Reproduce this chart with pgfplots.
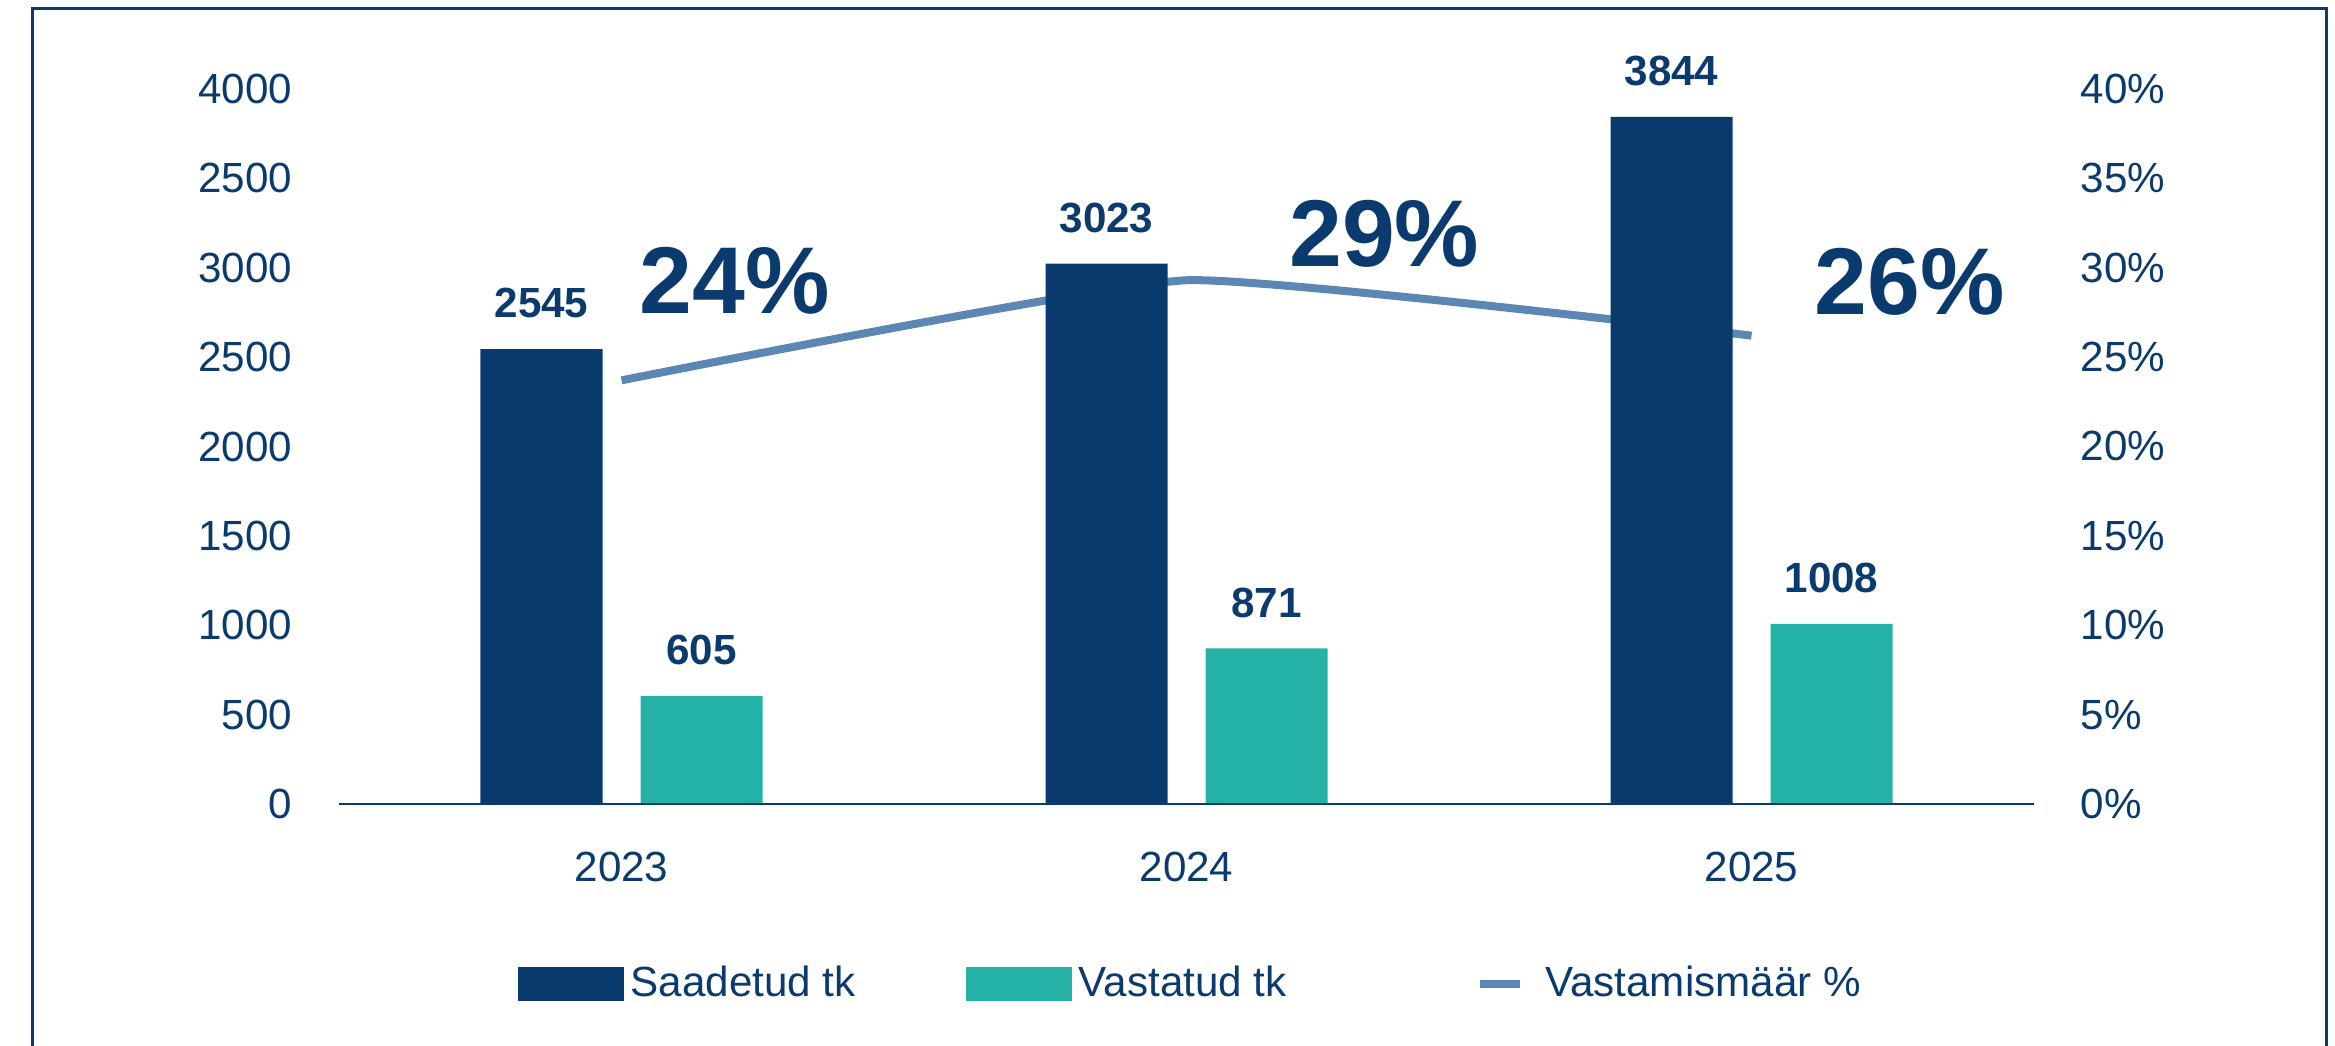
\documentclass[border=0pt]{standalone}
\usepackage{fontspec}
\setmainfont{Liberation Sans}
\usepackage{pgfplots}
\pgfplotsset{compat=1.18}

\definecolor{navy}{RGB}{8,58,110}
\definecolor{tealbar}{RGB}{36,178,166}
\definecolor{steel}{RGB}{91,136,178}
\definecolor{txt}{RGB}{11,59,110}

\newcommand{\reg}{\fontsize{12pt}{14pt}\selectfont}
\newcommand{\lab}{\fontsize{12pt}{14pt}\selectfont\bfseries}
\newcommand{\pct}{\fontsize{27pt}{30pt}\selectfont\bfseries}

\pgfplotsset{
  base/.style={
    at={(0,0)}, anchor=south west, scale only axis,
    width=169.5mm, height=71.5mm,
    xmin=-0.5, xmax=2.5,
    major tick length=0pt,
    clip=false,
    /pgf/number format/assume math mode=true,
    /pgf/number format/1000 sep={},
  },
}

\begin{document}
\begin{tikzpicture}
\useasboundingbox (-33.9mm,-24.2mm) rectangle (199.6mm,80.4mm);
% frame (no bottom edge in the reference)
\draw[txt, line width=0.3mm] (-30.6mm,-30mm) -- (-30.6mm,79.5mm) -- (198.7mm,79.5mm) -- (198.7mm,-30mm);

% right axis: response rate line, drawn first so the bars cover it
\begin{axis}[base,
  ymin=0, ymax=40,
  axis x line=none, axis y line*=right,
  y axis line style={draw=none},
  ytick={0,5,...,40},
  yticklabel={\pgfmathprintnumber{\tick}\%},
  yticklabel style={font=\reg, text=txt, anchor=west, inner sep=0pt, xshift=4.6mm},
]
\addplot[steel, line width=0.8mm, line join=round, smooth, tension=0.25]
  coordinates {(0,23.7) (1,29.3) (2,26.2)};
\node[font=\pct, text=txt] at (axis cs:0.20,29.3) {24\%};
\node[font=\pct, text=txt] at (axis cs:1.35,31.9) {29\%};
\node[font=\pct, text=txt] at (axis cs:2.28,29.2) {26\%};
\end{axis}

% left axis: counts
\begin{axis}[base,
  ymin=0, ymax=4000,
  axis on top,
  axis x line*=bottom, axis y line*=left,
  y axis line style={draw=none},
  x axis line style={txt, line width=0.2mm, -},
  xtick={0,1,2}, xticklabels={2023,2024,2025},
  xticklabel style={font=\reg, text=txt, anchor=north, inner sep=0pt, yshift=-4.7mm},
  ytick={0,500,...,4000},
  yticklabels={0,500,1000,1500,2000,2500,3000,2500,4000},
  yticklabel style={font=\reg, text=txt, anchor=east, inner sep=0pt, xshift=-4.6mm},
  ybar, bar width=12.2mm,
  nodes near coords,
  nodes near coords style={font=\lab, text=txt, anchor=south, inner sep=0pt, yshift=3mm},
  legend columns=3,
  legend cell align=left,
  legend style={at={(axis description cs:0.105,-0.252)}, anchor=west,
    draw=none, fill=none, inner sep=0pt, font=\reg, text=txt,
    /tikz/every even column/.append style={column sep=10.3mm}},
]
\addplot[fill=navy, draw=none, bar shift=-8mm,
  legend image code/.code={\fill[navy] (0mm,-1.7mm) rectangle (10.6mm,1.7mm);}]
  coordinates {(0,2545) (1,3023) (2,3844)};
\addlegendentry{Saadetud tk}
\addplot[fill=tealbar, draw=none, bar shift=8mm,
  legend image code/.code={\fill[tealbar] (0mm,-1.7mm) rectangle (10.6mm,1.7mm);}]
  coordinates {(0,605) (1,871) (2,1008)};
\addlegendentry{Vastatud tk}
\addlegendimage{legend image code/.code={\path (-8.3mm,0mm); \draw[steel, line width=0.8mm] (0mm,0mm) -- (4mm,0mm); \path (5.7mm,0mm);}}
\addlegendentry{Vastamismäär \%}
\end{axis}
\end{tikzpicture}
\end{document}
